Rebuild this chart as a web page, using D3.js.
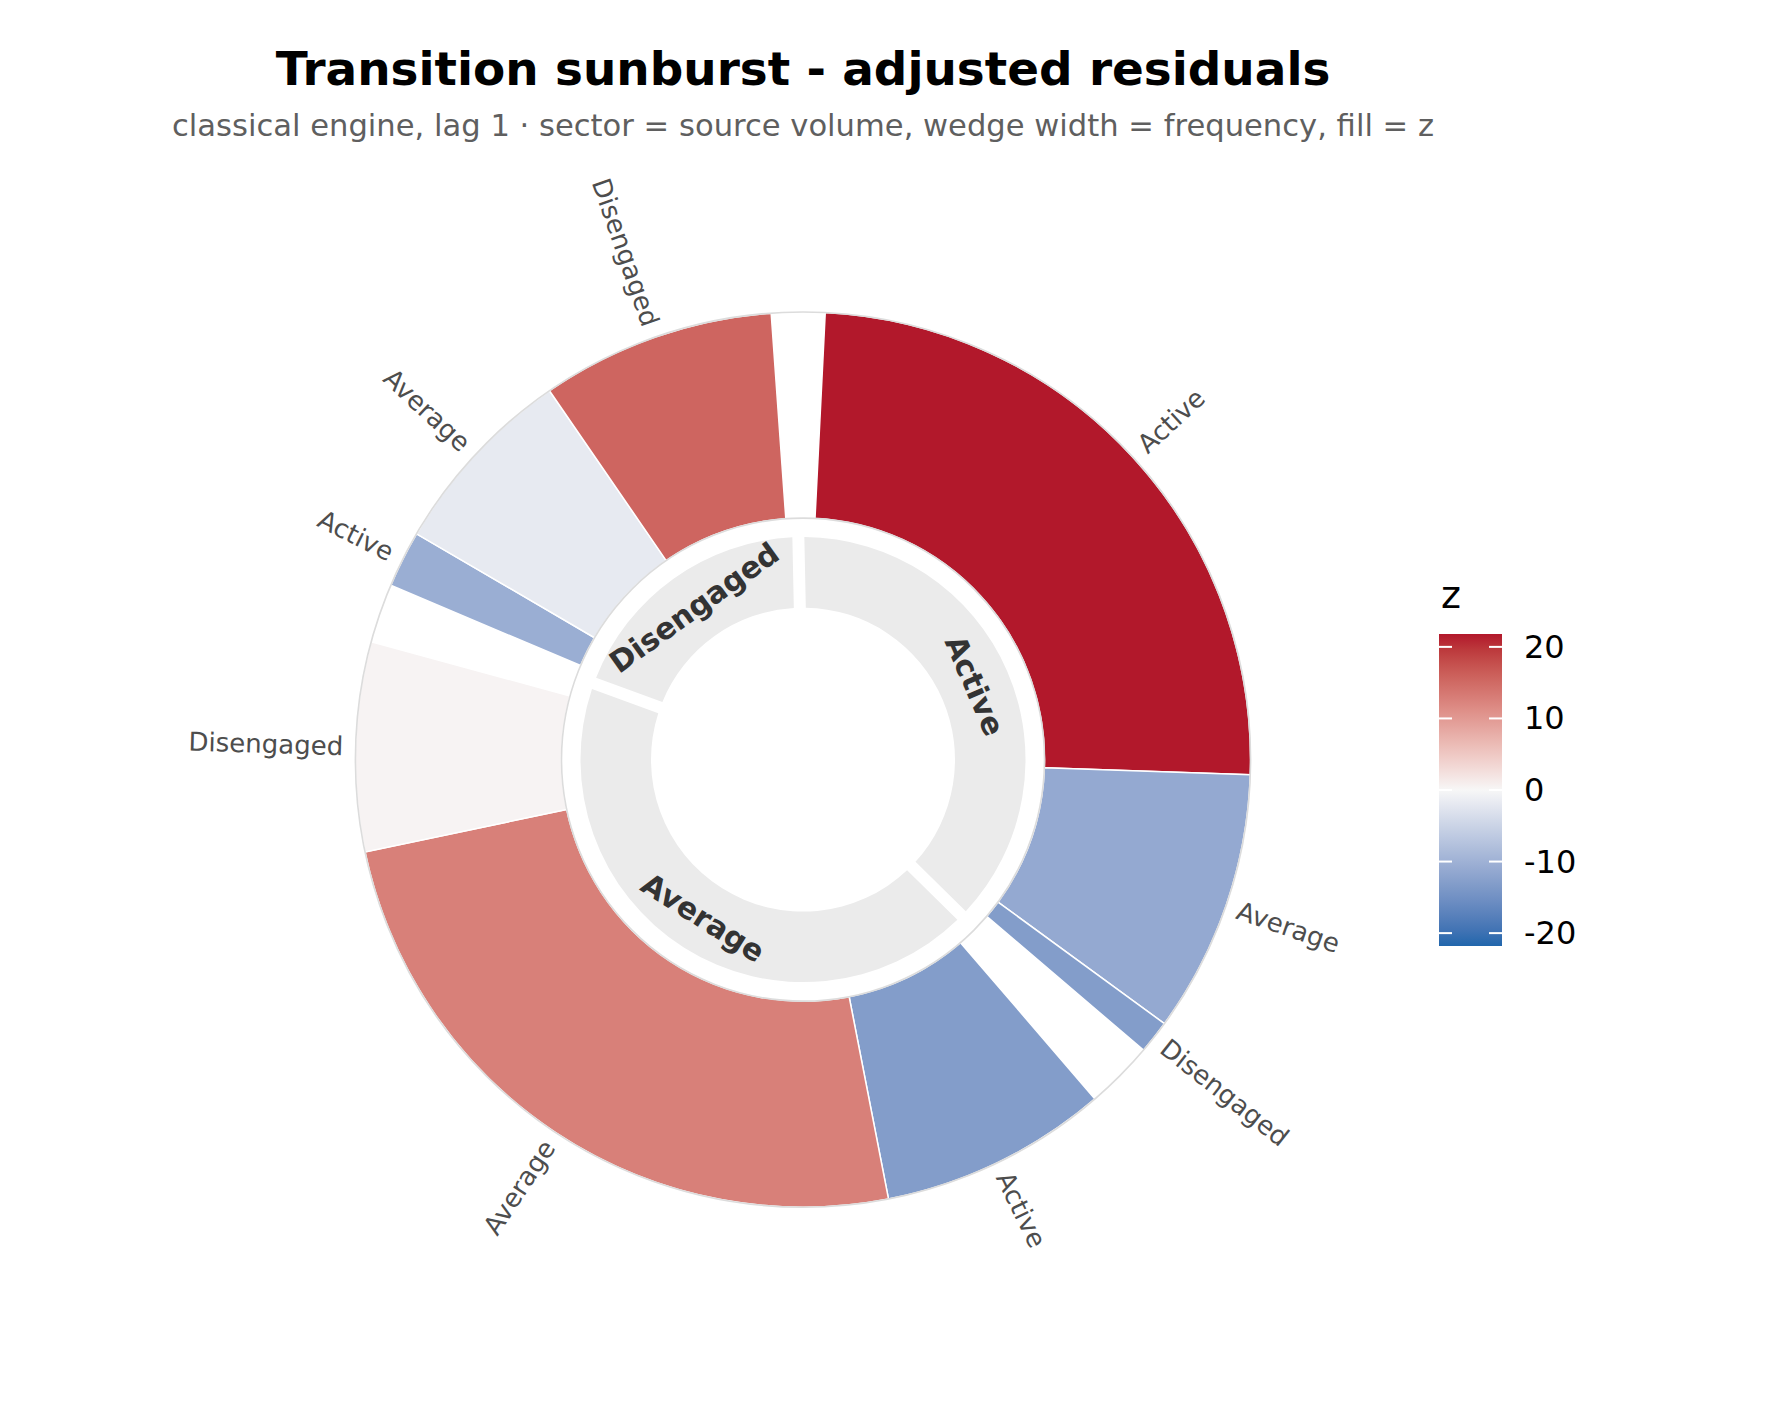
<!DOCTYPE html>
<html><head><meta charset="utf-8">
<script src="https://cdn.jsdelivr.net/npm/d3@7"></script>
<style>body{margin:0;background:#fff}text{font-family:"DejaVu Sans",sans-serif}</style>
</head><body>
<svg id="chart" width="1768" height="1404"></svg>
<script>
// ---- data ----
const states = ["Active", "Average", "Disengaged"];
const sourceVolume = [754, 864, 382];
const transFrom = ["Active","Active","Active","Average","Average","Average","Disengaged","Disengaged","Disengaged"];
const transTo   = ["Active","Average","Disengaged","Active","Average","Disengaged","Active","Average","Disengaged"];
const transCount = [495, 190, 24, 165, 495, 151, 41, 140, 169];
const transZ = [21.8, -11.2, -13.1, -13.1, 12.7, 0.4, -10.5, -1.8, 15.5];
const legendTicks = [-20, -10, 0, 10, 20];
const titleText = "Transition sunburst - adjusted residuals";
const subtitleText = "classical engine, lag 1 \u00b7 sector = source volume, wedge width = frequency, fill = z";

// ---- layout ----
const W = 1768, H = 1404;
const cx = 803, cy = 759.6;
const rIn0 = 152, rIn1 = 222.5, rOut0 = 241.5, rOut1 = 447.6, rLab = 460, rInLab = 187;
const offset = -1.2 * Math.PI / 180;

const svg = d3.select("#chart");
svg.append("rect").attr("width", W).attr("height", H).attr("fill", "#fff");

const total = d3.sum(sourceVolume);
const ang = d3.scaleLinear().domain([0, total]).range([offset, offset + 2 * Math.PI]);
const zmax = d3.max(transZ, d => Math.abs(d));
const color = d3.scaleDiverging(d3.piecewise(d3.interpolateLab, ["#2166AC", "#F7F7F7", "#B2182B"]))
  .domain([-zmax, 0, zmax]);

// sectors
let cum = 0;
const sectors = states.map((s, i) => {
  const o = {state: s, v: sourceVolume[i], start: cum, end: cum + sourceVolume[i]};
  cum += sourceVolume[i];
  return o;
});
// wedges, centered inside each sector
const wedges = [];
sectors.forEach(sec => {
  const idx = transFrom.map((f, i) => f === sec.state ? i : -1).filter(i => i >= 0);
  const sumT = d3.sum(idx, i => transCount[i]);
  let c = sec.start + (sec.v - sumT) / 2;
  idx.forEach(i => {
    wedges.push({from: transFrom[i], to: transTo[i], z: transZ[i], start: c, end: c + transCount[i]});
    c += transCount[i];
  });
});

const g = svg.append("g").attr("transform", `translate(${cx},${cy})`);

// outer ring
const arcOut = d3.arc().innerRadius(rOut0).outerRadius(rOut1);
g.selectAll("path.w").data(wedges).join("path").attr("class", "w")
  .attr("d", d => arcOut({startAngle: ang(d.start), endAngle: ang(d.end)}))
  .attr("fill", d => color(d.z)).attr("stroke", "#fff").attr("stroke-width", 1.5);

// ring outlines
[rOut0, rOut1].forEach(r => g.append("circle").attr("r", r).attr("fill", "none")
  .attr("stroke", "#dcdcdc").attr("stroke-width", 1.6));

// inner ring
const arcIn = d3.arc().innerRadius(rIn0).outerRadius(rIn1).padRadius(rIn1).padAngle(12 / rIn1);
g.selectAll("path.s").data(sectors).join("path").attr("class", "s")
  .attr("d", d => arcIn({startAngle: ang(d.start), endAngle: ang(d.end)}))
  .attr("fill", "#EBEBEB");

const deg = r => r * 180 / Math.PI;
// inner labels
g.selectAll("text.s").data(sectors).join("text").attr("class", "s")
  .attr("transform", d => {
    const a = ang((d.start + d.end) / 2);
    let ad = ((deg(a) % 360) + 360) % 360;
    const rot = (ad > 90 && ad < 270) ? ad - 180 : ad;
    return `translate(${rInLab * Math.sin(a)},${-rInLab * Math.cos(a)}) rotate(${rot})`;
  })
  .attr("text-anchor", "middle").attr("dominant-baseline", "central")
  .attr("font-size", 30).attr("font-weight", "bold").attr("fill", "#333333")
  .text(d => d.state);

// outer labels
g.selectAll("text.w").data(wedges).join("text").attr("class", "w")
  .each(function(d) {
    const a = ang((d.start + d.end) / 2);
    const ad = ((deg(a) % 360) + 360) % 360;
    const right = ad < 180;
    d3.select(this)
      .attr("transform", `translate(${rLab * Math.sin(a)},${-rLab * Math.cos(a)}) rotate(${right ? ad - 90 : ad - 270})`)
      .attr("text-anchor", right ? "start" : "end");
  })
  .attr("dominant-baseline", "central")
  .attr("font-size", 26).attr("fill", "#4D4D4D")
  .text(d => d.to);

// titles
svg.append("text").attr("x", cx).attr("y", 85).attr("text-anchor", "middle")
  .attr("font-size", 46.9).attr("font-weight", "bold").attr("fill", "#000").text(titleText);
svg.append("text").attr("x", cx).attr("y", 136).attr("text-anchor", "middle")
  .attr("font-size", 30.6).attr("fill", "#5f5f5f").text(subtitleText);

// legend
const lx = 1439, lw = 63, ly0 = 634, ly1 = 946;
const ly = d3.scaleLinear().domain([-zmax, zmax]).range([ly1, ly0]);
const defs = svg.append("defs");
const grad = defs.append("linearGradient").attr("id", "zgrad")
  .attr("x1", 0).attr("y1", 1).attr("x2", 0).attr("y2", 0);
d3.range(0, 1.0001, 0.05).forEach(t => {
  grad.append("stop").attr("offset", t).attr("stop-color", color(-zmax + t * 2 * zmax));
});
const lg = svg.append("g");
lg.append("rect").attr("x", lx).attr("y", ly0).attr("width", lw).attr("height", ly1 - ly0)
  .attr("fill", "url(#zgrad)");
legendTicks.forEach(t => {
  const y = ly(t);
  lg.append("line").attr("x1", lx).attr("x2", lx + 13).attr("y1", y).attr("y2", y)
    .attr("stroke", "#fff").attr("stroke-width", 2);
  lg.append("line").attr("x1", lx + lw - 13).attr("x2", lx + lw).attr("y1", y).attr("y2", y)
    .attr("stroke", "#fff").attr("stroke-width", 2);
  lg.append("text").attr("x", lx + lw + 22).attr("y", y).attr("dominant-baseline", "central")
    .attr("font-size", 32).attr("fill", "#000").text(t);
});
lg.append("text").attr("x", lx + 2).attr("y", 608).attr("font-size", 38).attr("fill", "#000").text("z");
</script>
</body></html>
